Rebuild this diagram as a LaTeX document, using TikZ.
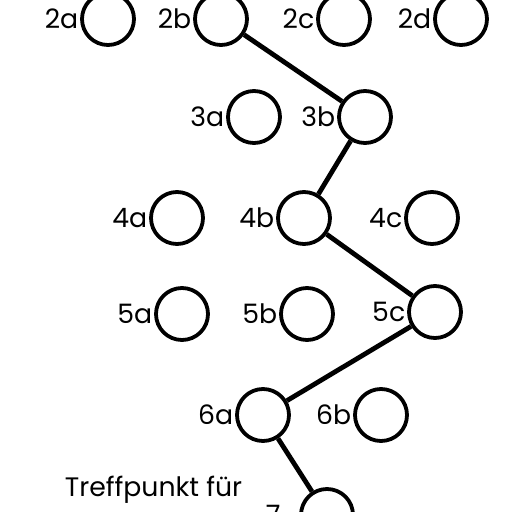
\documentclass[tikz,border=0pt]{standalone}
\usepackage{fontspec}
\setmainfont{Poppins}
\usetikzlibrary{positioning}

\begin{document}
\begin{tikzpicture}[x=0.25mm, y=-0.25mm,
  spot/.style={circle, draw=black, line width=0.95mm, minimum size=13mm, inner sep=0pt},
  tag/.style={inner sep=0.4mm, font=\fontsize{19}{22}\selectfont},
  route/.style={line width=1.2mm}]
\useasboundingbox (0,0) rectangle (512,512);
\clip (0,0) rectangle (512,512);
% row 2
\node[spot] (c2a) at (108,19) {};
\node[spot] (c2b) at (221,19) {};
\node[spot] (c2c) at (344,19) {};
\node[spot] (c2d) at (461,19) {};
\node[tag, left=0pt of c2a] (l2a) {2a};
\node[tag, left=0pt of c2b] (l2b) {2b};
\node[tag, left=0pt of c2c] (l2c) {2c};
\node[tag, left=0pt of c2d] (l2d) {2d};
% row 3
\node[spot] (c3a) at (254,117) {};
\node[spot] (c3b) at (365,117) {};
\node[tag, left=0pt of c3a] (l3a) {3a};
\node[tag, left=0pt of c3b] (l3b) {3b};
% row 4
\node[spot] (c4a) at (177,218) {};
\node[spot] (c4b) at (304,218) {};
\node[spot] (c4c) at (432,218) {};
\node[tag, left=0pt of c4a] (l4a) {4a};
\node[tag, left=0pt of c4b] (l4b) {4b};
\node[tag, left=0pt of c4c] (l4c) {4c};
% row 5
\node[spot] (c5a) at (182,314) {};
\node[spot] (c5b) at (307,314) {};
\node[spot] (c5c) at (435,312) {};
\node[tag, left=0pt of c5a] (l5a) {5a};
\node[tag, left=0pt of c5b] (l5b) {5b};
\node[tag, left=0pt of c5c] (l5c) {5c};
% row 6
\node[spot] (c6a) at (263,415) {};
\node[spot] (c6b) at (381,415) {};
\node[tag, left=0pt of c6a] (l6a) {6a};
\node[tag, left=0pt of c6b] (l6b) {6b};
% row 7
\node[spot] (c7) at (327,515) {};
\node[tag, left=12pt of c7] (l7) {7};
\node[tag, anchor=west] (meet) at (63,490) {Treffpunkt für};
% the way through
\draw[route] (c2b) -- (c3b) -- (c4b) -- (c5c) -- (c6a) -- (c7);
\end{tikzpicture}
\end{document}
